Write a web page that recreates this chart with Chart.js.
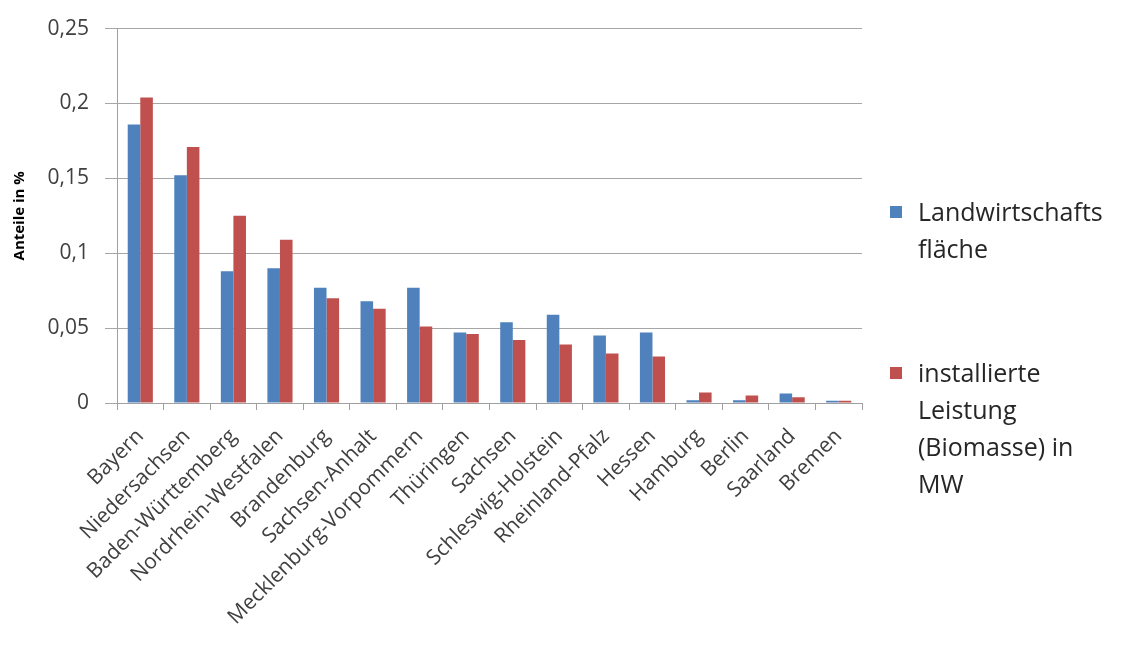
<!DOCTYPE html>
<html>
<head>
<meta charset="utf-8">
<script src="https://cdn.jsdelivr.net/npm/chart.js@4/dist/chart.umd.min.js"></script>
<style>
  html, body { margin: 0; padding: 0; background: #fff; }
  #wrap { position: relative; width: 1125px; height: 645px; }
  #legend { position: absolute; left: 890px; top: 0; font-family: "Open Sans", sans-serif; font-size: 25px; color: #262626; line-height: 37px; }
  #legend .item { position: absolute; left: 0; width: 235px; }
  #legend .box { position: absolute; left: 0; top: 13px; width: 12px; height: 12px; }
  #legend .txt { margin-left: 28px; white-space: nowrap; }
</style>
</head>
<body>
<div id="wrap">
  <canvas id="chart" width="1125" height="645"></canvas>
  <div id="legend"></div>
</div>
<script>
// Bundesländer
const laender = ['Bayern', 'Niedersachsen', 'Baden-Württemberg', 'Nordrhein-Westfalen', 'Brandenburg', 'Sachsen-Anhalt', 'Mecklenburg-Vorpommern', 'Thüringen', 'Sachsen', 'Schleswig-Holstein', 'Rheinland-Pfalz', 'Hessen', 'Hamburg', 'Berlin', 'Saarland', 'Bremen'];

// Anteile in %
const flaeche = [0.186, 0.152, 0.088, 0.090, 0.077, 0.068, 0.077, 0.047, 0.054, 0.059, 0.045, 0.047, 0.0018, 0.0018, 0.0063, 0.0015];
const leistung = [0.204, 0.171, 0.125, 0.109, 0.070, 0.063, 0.051, 0.046, 0.042, 0.039, 0.033, 0.031, 0.007, 0.005, 0.0038, 0.0015];

const serienNamen = ['Landwirtschafts fläche', 'installierte Leistung (Biomasse) in MW'];
const serienFarben = ['#4F81BD', '#C0504D'];
const legendeZeilen = [['Landwirtschafts', 'fläche'], ['installierte', 'Leistung', '(Biomasse) in', 'MW']];

const ctx = document.getElementById('chart').getContext('2d');
const chart = new Chart(ctx, {
    type: 'bar',
    data: {
        labels: laender,
        datasets: [{
            label: serienNamen[0],
            data: flaeche,
            backgroundColor: serienFarben[0],
            categoryPercentage: 0.54,
            barPercentage: 1.0
        }, {
            label: serienNamen[1],
            data: leistung,
            backgroundColor: serienFarben[1],
            categoryPercentage: 0.54,
            barPercentage: 1.0
        }]
    },
    options: {
        responsive: false,
        animation: false,
        layout: { padding: { top: 17, right: 263, left: 0, bottom: 0 } },
        plugins: {
            legend: { display: false },
            tooltip: { enabled: false }
        },
        scales: {
            x: {
                grid: { drawOnChartArea: false, color: '#a0a0a0', tickLength: 7, offset: true },
                border: { color: '#a0a0a0' },
                ticks: {
                    autoSkip: false,
                    maxRotation: 45,
                    minRotation: 45,
                    padding: 14,
                    color: '#404040',
                    font: { family: 'Open Sans', size: 21 }
                },
                afterFit: function(scale) { scale.height = 242; }
            },
            y: {
                min: 0,
                max: 0.25,
                grid: { color: '#a6a6a6', tickLength: 12 },
                border: { color: '#a0a0a0' },
                ticks: {
                    stepSize: 0.05,
                    padding: 16,
                    color: '#404040',
                    font: { family: 'Open Sans', size: 21 },
                    callback: function(value) {
                        return Number(value.toFixed(2)).toString().replace('.', ',');
                    }
                },
                title: {
                    display: true,
                    text: 'Anteile in %',
                    color: '#000',
                    font: { family: 'Open Sans', size: 15, weight: 'bold' },
                    padding: { top: 11, bottom: 0 }
                },
                afterFit: function(scale) { scale.width = 117; }
            }
        }
    }
});

// Legende rechts
const legend = document.getElementById('legend');
const legendeTop = [193, 354];
legendeZeilen.forEach(function(zeilen, i) {
    const item = document.createElement('div');
    item.className = 'item';
    item.style.top = legendeTop[i] + 'px';
    const box = document.createElement('div');
    box.className = 'box';
    box.style.background = serienFarben[i];
    const txt = document.createElement('div');
    txt.className = 'txt';
    txt.innerHTML = zeilen.join('<br>');
    item.appendChild(box);
    item.appendChild(txt);
    legend.appendChild(item);
});
</script>
</body>
</html>
